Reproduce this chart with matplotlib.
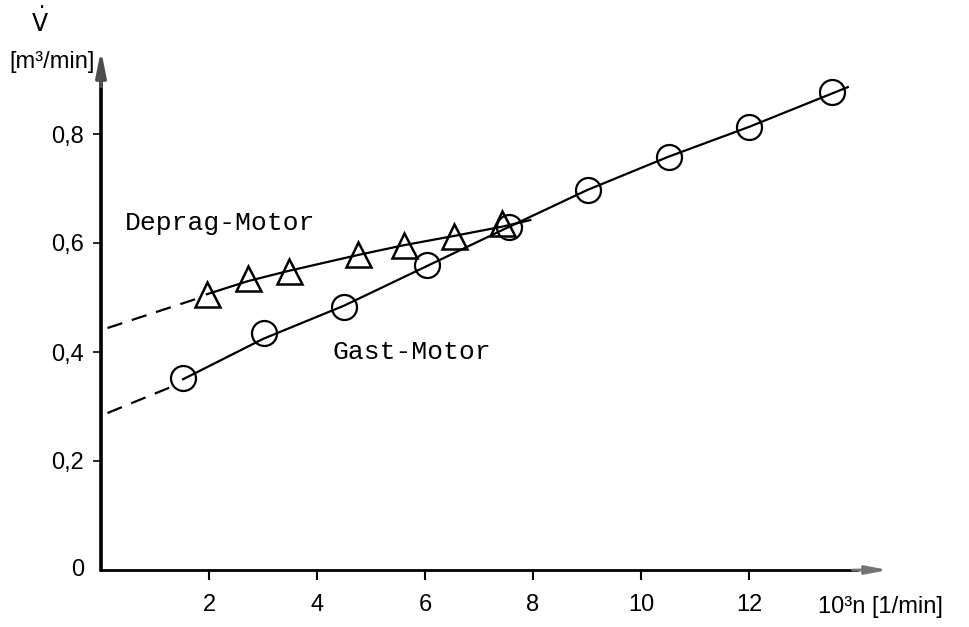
import matplotlib.pyplot as plt

# Gast-Motor: measured points and drawn curve
gast_n = [1.52, 3.02, 4.50, 6.04, 7.56, 9.02, 10.52, 12.0, 13.54]
gast_v = [0.352, 0.435, 0.483, 0.560, 0.629, 0.697, 0.758, 0.813, 0.877]
gast_curve_n = [1.52, 3.0, 4.5, 6.0, 7.5, 9.0, 10.5, 12.0, 13.83]
gast_curve_v = [0.350, 0.424, 0.485, 0.556, 0.627, 0.697, 0.758, 0.813, 0.886]
gast_dash_n = [0.12, 1.35]
gast_dash_v = [0.288, 0.338]

# Deprag-Motor
deprag_n = [1.96, 2.72, 3.48, 4.76, 5.61, 6.54, 7.43]
deprag_v = [0.506, 0.536, 0.549, 0.580, 0.596, 0.613, 0.637]
deprag_curve_n = [1.96, 2.72, 3.48, 4.76, 5.61, 6.54, 7.43, 7.95]
deprag_curve_v = [0.506, 0.530, 0.549, 0.578, 0.596, 0.613, 0.630, 0.642]
deprag_dash_n = [0.12, 1.75]
deprag_dash_v = [0.444, 0.497]

x_ticks = [2, 4, 6, 8, 10, 12]
y_ticks = [0.2, 0.4, 0.6, 0.8]
y_labels = ['0,2', '0,4', '0,6', '0,8']

plt.rcParams['font.family'] = ['Liberation Sans', 'DejaVu Sans']

W, H = 969, 627
fig = plt.figure(figsize=(W / 100, H / 100), dpi=100)
ax = fig.add_axes([101 / W, (H - 570) / H, (888 - 101) / W, (570 - 50) / H])
ax.set_xlim(0, 787 / 54)
ax.set_ylim(0, 520 / 545)

for s in ['top', 'right']:
    ax.spines[s].set_visible(False)
ax.spines['left'].set_linewidth(2.6)
ax.spines['bottom'].set_linewidth(2.0)
ax.spines['left'].set_bounds(0, 0.92)
ax.spines['bottom'].set_bounds(0, 14.0)

ax.set_xticks(x_ticks)
ax.set_xticklabels([str(t) for t in x_ticks])
ax.set_yticks(y_ticks)
ax.set_yticklabels(y_labels)
ax.tick_params(axis='x', direction='out', length=7, width=1.5, pad=10, labelsize=17)
ax.tick_params(axis='y', direction='out', length=6, width=1.2, pad=6, labelsize=17)

# axis arrowheads
ax.annotate('', xy=(1.0, 0), xytext=(0.955, 0), xycoords='axes fraction',
            arrowprops=dict(arrowstyle='-|>,head_length=1.3,head_width=0.25',
                            color='0.45', lw=2, shrinkA=0, shrinkB=0))
ax.annotate('', xy=(0, 1.0), xytext=(0, 0.93), xycoords='axes fraction',
            arrowprops=dict(arrowstyle='-|>,head_length=1.5,head_width=0.3',
                            color='0.3', lw=2.6, shrinkA=0, shrinkB=0))

# curves
ax.plot(gast_curve_n, gast_curve_v, '-', color='black', lw=1.6)
ax.plot(gast_dash_n, gast_dash_v, color='black', lw=1.6, dashes=(7, 4.5))
ax.plot(gast_n, gast_v, 'o', ms=18, mfc='none', mec='black', mew=1.6)

ax.plot(deprag_curve_n, deprag_curve_v, '-', color='black', lw=1.6)
ax.plot(deprag_dash_n, deprag_dash_v, color='black', lw=1.6, dashes=(7, 4.5))
ax.plot(deprag_n, deprag_v, '^', ms=18, mfc='none', mec='black', mew=1.8)

ax.text(0.44, 0.637, 'Deprag-Motor', family='Liberation Mono', fontsize=19,
        va='center', ha='left')
ax.text(4.28, 0.4, 'Gast-Motor', family='Liberation Mono', fontsize=19,
        va='center', ha='left')

# origin and axis labels
fig.text(78 / W, 1 - 570 / H, '0', fontsize=17, ha='center', va='center')
fig.text(40 / W, 1 - 22 / H, r'$\dot{\mathsf{V}}$', fontsize=17, ha='center', va='center')
fig.text(52 / W, 1 - 62 / H, '[m³/min]', fontsize=17, ha='center', va='center')
fig.text(880 / W, 1 - 607 / H, '10³n [1/min]', fontsize=17, ha='center', va='center')

fig.savefig('out.png', dpi=100, facecolor='white')
